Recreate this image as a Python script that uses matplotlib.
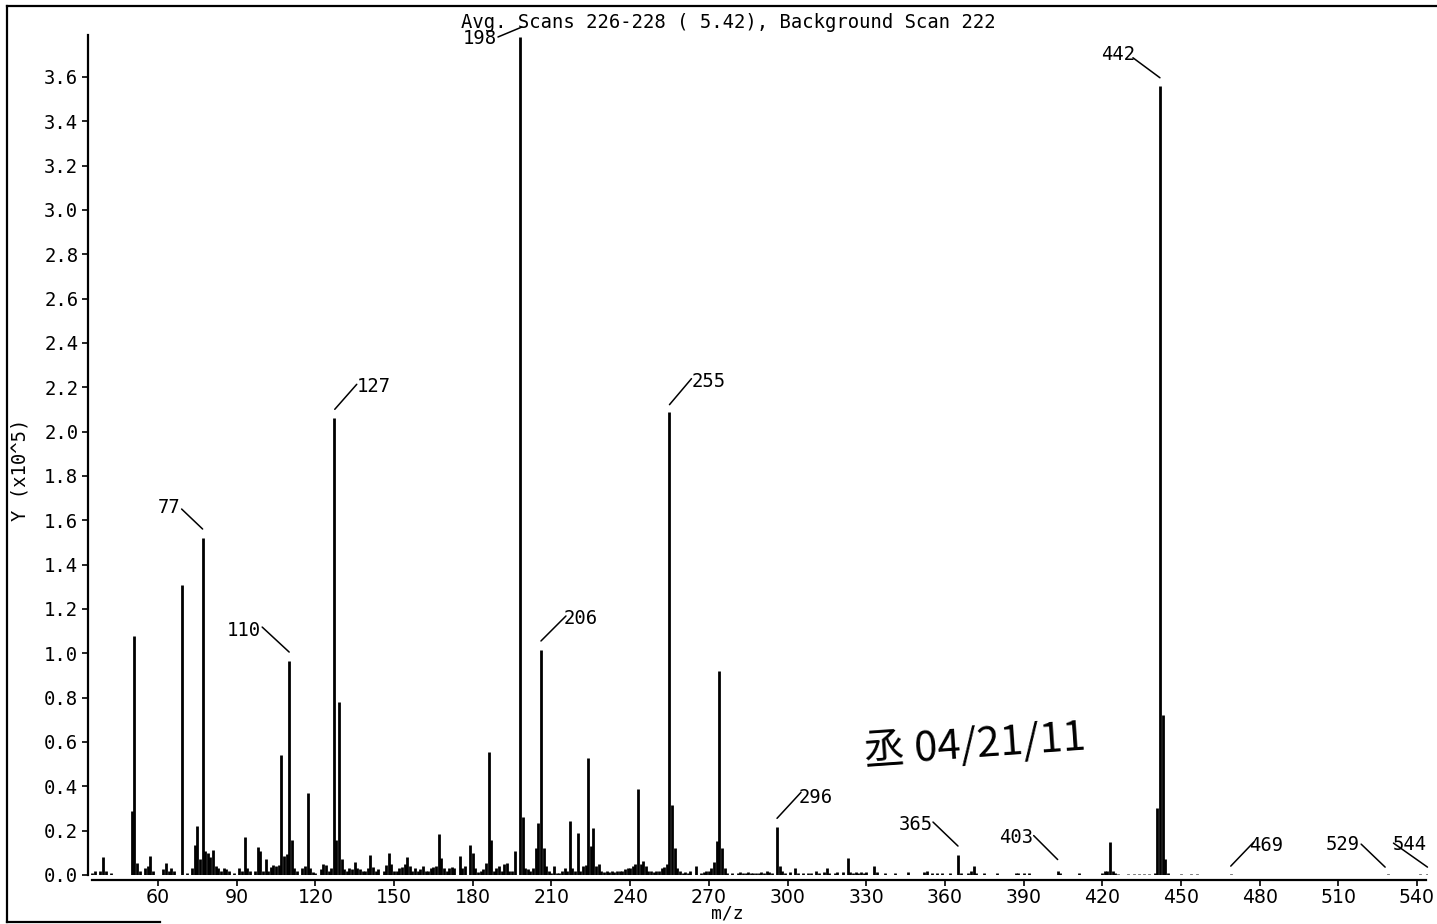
import numpy as np
import matplotlib
matplotlib.use("Agg")
import matplotlib.pyplot as plt
from matplotlib.transforms import offset_copy
from matplotlib.lines import Line2D

# spectrum data (m/z, intensity in units of 1e5)
mz = [35, 36, 38, 39, 40, 42, 50, 51, 52, 53, 55, 56, 57, 58, 62, 63, 64, 65, 66,
      69, 71, 73, 74, 75, 76, 77, 78, 79, 80, 81, 82, 83, 84, 85, 86, 87, 89, 91,
      92, 93, 94, 95, 97, 98, 99, 100, 101, 102, 103, 104, 105, 106, 107, 108, 109,
      110, 111, 112, 113, 115, 116, 117, 118, 119, 120, 122, 123, 124, 125, 126,
      127, 128, 129, 130, 131, 132, 133, 134, 135, 136, 137, 138, 139, 140, 141,
      142, 143, 144, 146, 147, 148, 149, 150, 151, 152, 153, 154, 155, 156, 157,
      158, 159, 160, 161, 162, 163, 164, 165, 166, 167, 168, 169, 170, 171, 172,
      173, 175, 176, 177, 179, 180, 181, 182, 183, 184, 185, 186, 187, 188, 189,
      190, 191, 192, 193, 194, 195, 196, 198, 199, 200, 201, 202, 203, 204, 205,
      206, 207, 208, 209, 210, 211, 212, 213, 214, 215, 216, 217, 218, 219, 220,
      221, 222, 223, 224, 225, 226, 227, 228, 229, 230, 231, 232, 233, 234, 235,
      236, 237, 238, 239, 240, 241, 242, 243, 244, 245, 246, 247, 248, 249, 250,
      251, 252, 253, 254, 255, 256, 257, 258, 259, 260, 261, 262, 263, 265, 267,
      268, 269, 270, 271, 272, 273, 274, 275, 276, 277, 279, 281, 282, 283, 284,
      285, 286, 287, 288, 289, 290, 291, 292, 293, 294, 296, 297, 298, 299, 301,
      303, 304, 306, 308, 309, 311, 312, 314, 315, 316, 318, 319, 321, 323, 324,
      325, 326, 327, 328, 329, 330, 333, 334, 337, 341, 346, 352, 353, 355, 357,
      359, 362, 365, 366, 369, 370, 371, 372, 375, 380, 387, 388, 390, 392, 403,
      404, 411, 420, 421, 422, 423, 424, 425, 426, 430, 432, 434, 436, 438, 440,
      441, 442, 443, 444, 445, 450, 454, 456, 469, 529, 541, 544]
intensity = [0.01, 0.02, 0.02, 0.08, 0.02, 0.01, 0.29, 1.08, 0.055, 0.02, 0.03, 0.04,
             0.085, 0.02, 0.025, 0.055, 0.02, 0.03, 0.02,
             1.31, 0.01, 0.03, 0.135, 0.22, 0.07, 1.52, 0.11, 0.10, 0.08, 0.115, 0.04,
             0.03, 0.02, 0.03, 0.025, 0.02, 0.01, 0.03,
             0.02, 0.17, 0.03, 0.02, 0.02, 0.125, 0.11, 0.02, 0.07, 0.02, 0.035, 0.045,
             0.04, 0.045, 0.54, 0.085, 0.095,
             0.965, 0.16, 0.03, 0.02, 0.03, 0.04, 0.37, 0.03, 0.015, 0.01, 0.025, 0.05,
             0.045, 0.02, 0.03,
             2.06, 0.16, 0.78, 0.07, 0.025, 0.02, 0.03, 0.025, 0.06, 0.03, 0.025, 0.02,
             0.02, 0.03, 0.09,
             0.035, 0.02, 0.025, 0.02, 0.045, 0.10, 0.05, 0.02, 0.02, 0.03, 0.035, 0.05,
             0.08, 0.04, 0.02,
             0.03, 0.02, 0.025, 0.04, 0.02, 0.02, 0.03, 0.035, 0.04, 0.185, 0.075, 0.03,
             0.02, 0.03, 0.035,
             0.03, 0.085, 0.03, 0.04, 0.135, 0.10, 0.03, 0.015, 0.02, 0.025, 0.055,
             0.555, 0.16, 0.02, 0.03,
             0.04, 0.02, 0.05, 0.055, 0.02, 0.02, 0.11, 3.78, 0.26, 0.03, 0.025, 0.02,
             0.03, 0.12, 0.235,
             1.015, 0.12, 0.04, 0.02, 0.01, 0.04, 0.01, 0.01, 0.02, 0.03, 0.02, 0.245,
             0.03, 0.02, 0.19,
             0.02, 0.04, 0.045, 0.53, 0.13, 0.21, 0.04, 0.05, 0.02, 0.015, 0.02, 0.015,
             0.02, 0.015, 0.02,
             0.02, 0.02, 0.025, 0.03, 0.03, 0.04, 0.05, 0.39, 0.05, 0.065, 0.04, 0.02,
             0.02, 0.015, 0.02,
             0.02, 0.03, 0.035, 0.05, 2.09, 0.315, 0.12, 0.03, 0.02, 0.01, 0.015, 0.01,
             0.02, 0.04, 0.01,
             0.015, 0.02, 0.02, 0.03, 0.06, 0.155, 0.92, 0.12, 0.03, 0.01, 0.01, 0.01,
             0.015, 0.01, 0.01,
             0.015, 0.01, 0.01, 0.01, 0.01, 0.015, 0.01, 0.02, 0.015, 0.01, 0.215, 0.04,
             0.02, 0.01, 0.015,
             0.03, 0.01, 0.01, 0.01, 0.01, 0.02, 0.01, 0.015, 0.03, 0.01, 0.01, 0.015,
             0.015, 0.075, 0.015,
             0.01, 0.015, 0.01, 0.015, 0.01, 0.015, 0.04, 0.015, 0.01, 0.01, 0.015,
             0.015, 0.02, 0.01, 0.01,
             0.01, 0.01, 0.09, 0.01, 0.01, 0.02, 0.04, 0.01, 0.01, 0.01, 0.01, 0.01,
             0.01, 0.01, 0.02,
             0.01, 0.01, 0.01, 0.02, 0.02, 0.15, 0.02, 0.01, 0.005, 0.005, 0.005, 0.005,
             0.005, 0.005, 0.01,
             0.30, 3.56, 0.72, 0.07, 0.01, 0.005, 0.005, 0.005, 0.004, 0.004, 0.004, 0.004]

labelled = [77, 110, 127, 198, 206, 255, 296, 365, 403, 442, 469, 529, 544]
title = "Avg. Scans 226-228 ( 5.42), Background Scan 222"

# label placement in pixels relative to the peak top: text (dx, dy, ha), leader line start/end
label_pos = {
    77: ((-22, 31, "right"), (-21, 29), (0, 9)),
    110: ((-28, 31, "right"), (-27, 34), (0, 9)),
    127: ((23, 32, "left"), (1, 9), (23, 34)),
    198: ((-23, -2, "right"), (-22, 0), (2, 10)),
    206: ((23, 31, "left"), (0, 9), (25, 34)),
    255: ((22, 30, "left"), (0, 7), (22, 33)),
    296: ((22, 30, "left"), (0, 9), (24, 35)),
    365: ((-25, 31, "right"), (-25, 33), (0, 9)),
    403: ((-24, 33, "right"), (-24, 35), (0, 11)),
    442: ((-25, 31, "right"), (-27, 28), (0, 8)),
    469: ((18, 29, "left"), (0, 8), (23, 32)),
    529: ((-28, 30, "right"), (-27, 30), (-3, 7)),
    544: ((-1, 30, "right"), (-34, 31), (0, 7)),
}

mono = "DejaVu Sans Mono"
fs = 13.6
W, H = 1437, 924

fig = plt.figure(figsize=(W / 100, H / 100), dpi=100)
ax = fig.add_axes([88 / W, (H - 875) / H, (1428 - 88) / W, (875 - 35) / H])

ax.vlines(mz, 0, intensity, color="black", lw=2.0)

ax.set_xlim(33.3, 544.2)
ax.set_ylim(0, 3.789)
ax.set_xticks(range(60, 541, 30))
yt = np.arange(0, 3.61, 0.2)
ax.set_yticks(yt)
ax.set_yticklabels([f"{v:.1f}" for v in yt])
ax.tick_params(direction="out", length=4, width=1.2, labelsize=fs, pad=3)
ax.tick_params(axis="x", pad=2)
for lab in ax.get_xticklabels() + ax.get_yticklabels():
    lab.set_family(mono)

ax.spines["top"].set_visible(False)
ax.spines["right"].set_visible(False)
ax.spines["left"].set_linewidth(1.6)
ax.spines["bottom"].set_linewidth(1.6)
ax.spines["bottom"].set_position(("outward", 3.6))
ax.spines["bottom"].set_bounds(35.0, 543.3)

# peak labels with leader lines
height = dict(zip(mz, intensity))
for m in labelled:
    h = height[m]
    (tx, ty, ha), (x0, y0), (x1, y1) = label_pos[m]
    ax.annotate(str(m), xy=(m, h), xytext=(tx, ty), textcoords="offset pixels",
                ha=ha, va="center", fontsize=fs, family=mono)
    ax.annotate("", xy=(m, h), xycoords=offset_copy(ax.transData, fig=fig, x=x1, y=y1, units="dots"),
                xytext=(m, h), textcoords=offset_copy(ax.transData, fig=fig, x=x0, y=y0, units="dots"),
                arrowprops=dict(arrowstyle="-", lw=1.1, color="black", shrinkA=0, shrinkB=0))

fig.text(728 / W, 1 - 22 / H, title, ha="center", va="center", fontsize=fs, family=mono)
fig.text(727 / W, 1 - 923 / H, "m/z", ha="center", va="bottom", fontsize=13, family=mono)
fig.text(20 / W, 1 - 470 / H, "Y (x10^5)", ha="center", va="center", rotation=90,
         fontsize=fs, family=mono)

# handwritten note on the printout
fig.text(975 / W, 1 - 745 / H, "丞 04/21/11", ha="center", va="center", fontsize=30,
         family=["Noto Sans CJK SC", "DejaVu Sans"], style="italic", rotation=4)

# frame of the scanned page
for xs, ys in [([7, 1436], [6, 6]), ([7, 7], [6, 922]), ([7, 160], [922, 922])]:
    fig.add_artist(Line2D([x / W for x in xs], [1 - y / H for y in ys],
                          transform=fig.transFigure, color="black", lw=1.6))

fig.savefig("out.png", dpi=100)
